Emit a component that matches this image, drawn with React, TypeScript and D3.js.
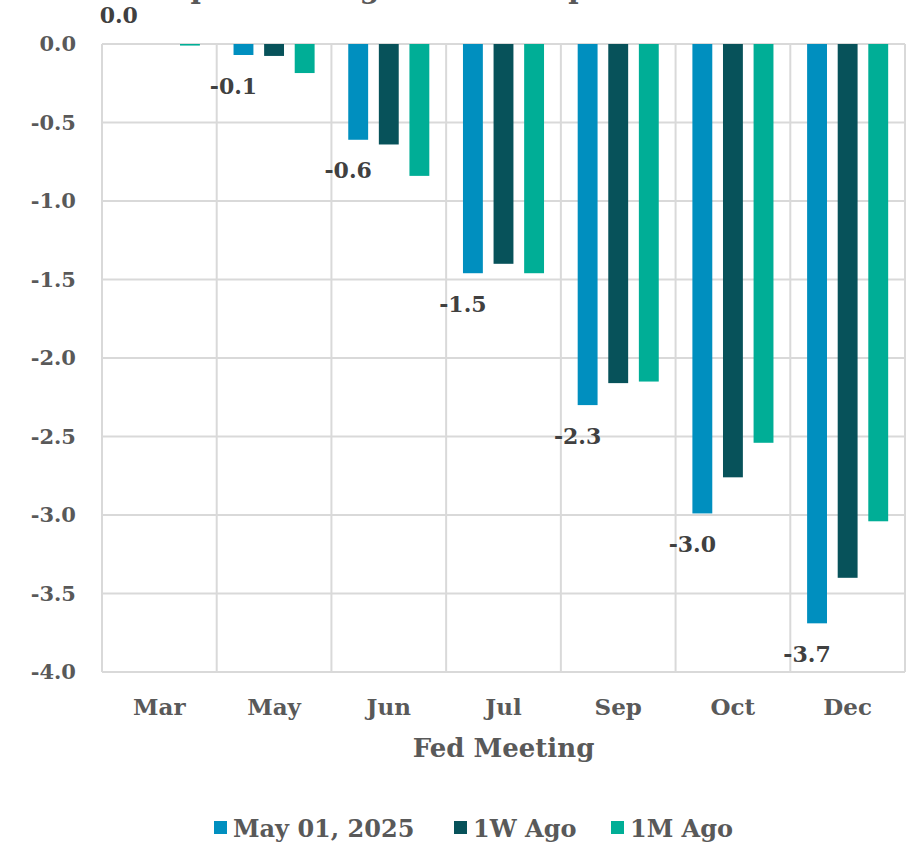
import React from "react";
import * as d3 from "d3";

const meetings = ["Mar", "May", "Jun", "Jul", "Sep", "Oct", "Dec"];
const seriesNames = ["May 01, 2025", "1W Ago", "1M Ago"];
const current = [0, -0.07, -0.61, -1.46, -2.3, -2.99, -3.69];
const oneWeekAgo = [0, -0.076, -0.64, -1.4, -2.16, -2.76, -3.4];
const oneMonthAgo = [-0.01, -0.185, -0.84, -1.46, -2.15, -2.54, -3.04];
const yTicks = [0, -0.5, -1, -1.5, -2, -2.5, -3, -3.5, -4];
const colors = ["#008FBF", "#07525A", "#00AE96"];

const W = 909;
const H = 844;
const FONT = "'DejaVu Serif', 'Liberation Serif', serif";

// one decimal, with a plain hyphen for the sign
const fmt = (v: number) => d3.format(".1f")(v).replace("\u2212", "-");

export default function App() {
  const left = 102;
  const right = 905;
  const top = 44;
  const bottom = 672;

  const y = d3.scaleLinear().domain([0, -4]).range([top, bottom]);
  const x0 = d3.scaleBand().domain(meetings).range([left, right]).padding(0);
  const x1 = d3
    .scaleBand()
    .domain(seriesNames)
    .range([0, x0.bandwidth()])
    .paddingInner(0.35)
    .paddingOuter(0.55);

  const data = [current, oneWeekAgo, oneMonthAgo];
  const vLines = [...meetings.map((m) => x0(m) as number), right];

  return (
    <svg
      width={W}
      height={H}
      style={{ position: "absolute", left: 0, top: 0, background: "#fff" }}
      fontFamily={FONT}
      fontWeight="bold"
    >
      <text x={440} y={-2} textAnchor="middle" fontSize={28} fill="#595959">
        Implied Change in Rate Expectations
      </text>

      {/* grid */}
      {yTicks.map((t) => (
        <line key={"h" + t} x1={left} x2={right} y1={y(t)} y2={y(t)} stroke="#D9D9D9" strokeWidth={2} />
      ))}
      {vLines.map((vx, i) => (
        <line key={"v" + i} x1={vx} x2={vx} y1={top} y2={bottom} stroke="#D9D9D9" strokeWidth={2} />
      ))}

      {/* y tick labels */}
      {yTicks.map((t) => (
        <text key={"t" + t} x={76} y={y(t)} dy="0.35em" textAnchor="end" fontSize={21} fill="#595959">
          {fmt(t)}
        </text>
      ))}

      {/* bars */}
      {data.map((vals, si) =>
        vals.map((v, i) => {
          const bx = (x0(meetings[i]) as number) + (x1(seriesNames[si]) as number);
          const y0 = y(0);
          const y1 = y(v);
          return (
            <rect
              key={si + "-" + i}
              x={bx}
              y={Math.min(y0, y1)}
              width={x1.bandwidth()}
              height={Math.abs(y1 - y0)}
              fill={colors[si]}
            />
          );
        })
      )}

      {/* value labels for the latest series */}
      {current.map((v, i) => {
        const cx = (x0(meetings[i]) as number) + (x1(seriesNames[0]) as number) + x1.bandwidth() / 2 - 10;
        const ly = v < 0 ? y(v) + 31 : y(v) - 29;
        return (
          <text key={"l" + i} x={cx} y={ly} dy="0.35em" textAnchor="middle" fontSize={22} fill="#404040">
            {fmt(v)}
          </text>
        );
      })}

      {/* category labels */}
      {meetings.map((m) => (
        <text
          key={"c" + m}
          x={(x0(m) as number) + x0.bandwidth() / 2}
          y={707}
          dy="0.35em"
          textAnchor="middle"
          fontSize={23}
          fill="#595959"
        >
          {m}
        </text>
      ))}

      <text x={(left + right) / 2} y={748} dy="0.35em" textAnchor="middle" fontSize={26} fill="#595959">
        Fed Meeting
      </text>

      {/* legend */}
      {seriesNames.map((s, i) => {
        const lx = [214, 454, 611][i];
        return (
          <g key={"lg" + s}>
            <rect x={lx} y={821} width={13} height={13} fill={colors[i]} />
            <text x={lx + 19} y={829} dy="0.35em" fontSize={24} fill="#595959">
              {s}
            </text>
          </g>
        );
      })}
    </svg>
  );
}
